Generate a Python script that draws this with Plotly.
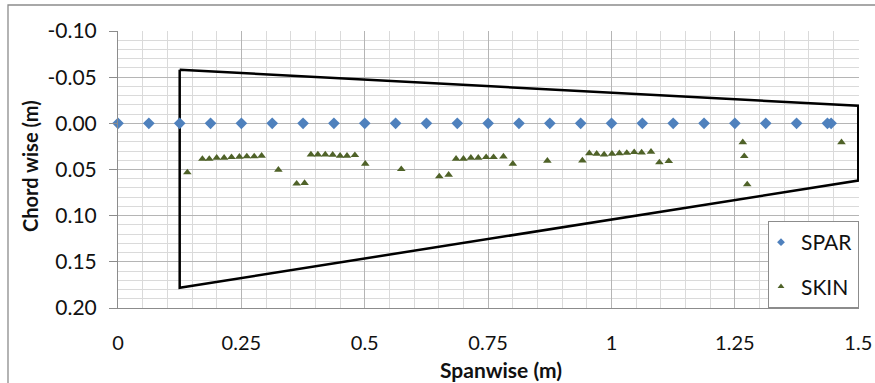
import plotly.graph_objects as go

# ---------------- data ----------------
spar_x = [0, 0.0625, 0.125, 0.1875, 0.25, 0.3125, 0.375, 0.4375, 0.5, 0.5625,
          0.625, 0.6875, 0.75, 0.8125, 0.875, 0.9375, 1.0, 1.0625, 1.125, 1.1875,
          1.25, 1.3125, 1.375, 1.4375, 1.445]
spar_y = [0.0] * len(spar_x)

skin_x = [0.1405,
          0.171, 0.185, 0.200, 0.215, 0.230, 0.246, 0.261, 0.276, 0.291,
          0.325, 0.362, 0.378,
          0.391, 0.405, 0.420, 0.435, 0.450, 0.464, 0.480,
          0.501, 0.574, 0.651, 0.670,
          0.685, 0.700, 0.715, 0.730, 0.746, 0.761, 0.781,
          0.800, 0.870, 0.941,
          0.955, 0.970, 0.985, 1.001, 1.016, 1.031, 1.046, 1.061, 1.080,
          1.097, 1.116,
          1.266, 1.269, 1.275, 1.466]
skin_y = [0.0532,
          0.0385, 0.0385, 0.0374, 0.0374, 0.0367, 0.0363, 0.0359, 0.0359, 0.0352,
          0.0503, 0.0654, 0.0647,
          0.0338, 0.0338, 0.0338, 0.0341, 0.0352, 0.0352, 0.0345,
          0.0438, 0.0496, 0.0575, 0.0557,
          0.0384, 0.0384, 0.0373, 0.0373, 0.0367, 0.0367, 0.0360,
          0.0438, 0.0406, 0.0403,
          0.0324, 0.0330, 0.0338, 0.0330, 0.0324, 0.0320, 0.0313, 0.0316, 0.0309,
          0.0424, 0.0410,
          0.0205, 0.0356, 0.0662, 0.0205]

# wing outline (planform)
outline_x = [0.125, 1.5, 1.5, 0.125, 0.125]
outline_y = [-0.058, -0.019, 0.062, 0.178, -0.058]

x_ticks = [0, 0.25, 0.5, 0.75, 1, 1.25, 1.5]
x_labels = ["0", "0.25", "0.5", "0.75", "1", "1.25", "1.5"]
y_ticks = [-0.10, -0.05, 0.00, 0.05, 0.10, 0.15, 0.20]
y_labels = ["-0.10", "-0.05", "0.00", "0.05", "0.10", "0.15", "0.20"]

# ---------------- layout constants ----------------
W, H = 875, 383
ML, MR, MT, MB = 118, 16, 31, 75
PW, PH = W - ML - MR, H - MT - MB
FONT = "Lato"
BLUE = "#4F81BD"
GREEN = "#4F6228"


def px_to_paper(px, py):
    return (px - ML) / PW, (H - MB - py) / PH


fig = go.Figure()

fig.add_trace(go.Scatter(x=outline_x, y=outline_y, mode="lines",
                         line=dict(color="black", width=2.5),
                         showlegend=False, hoverinfo="skip"))
fig.add_trace(go.Scatter(x=spar_x, y=spar_y, mode="markers", name="SPAR",
                         marker=dict(symbol="diamond", size=9, color=BLUE),
                         cliponaxis=False, showlegend=False))
fig.add_trace(go.Scatter(x=skin_x, y=skin_y, mode="markers", name="SKIN",
                         marker=dict(symbol="triangle-up", size=7.5, color=GREEN),
                         cliponaxis=False, showlegend=False))
# legend entries (small markers like the reference legend)
fig.add_trace(go.Scatter(x=[None], y=[None], mode="markers", name="SPAR",
                         legendgroup="a",
                         marker=dict(symbol="diamond", size=6, color=BLUE)))
fig.add_trace(go.Scatter(x=[None], y=[None], mode="markers", name="SKIN",
                         legendgroup="b",
                         marker=dict(symbol="triangle-up", size=6, color=GREEN)))

fig.update_xaxes(range=[0, 1.5015], tickvals=x_ticks, ticktext=x_labels,
                 showgrid=True, gridcolor="#b5b5b5", gridwidth=1,
                 minor=dict(dtick=0.05, tick0=0, showgrid=True,
                            gridcolor="#dadada", gridwidth=1),
                 showline=True, linecolor="#8c8c8c", linewidth=1,
                 ticks="", ticklabelstandoff=17, zeroline=False, automargin=False,
                 tickfont=dict(family=FONT, size=20, color="#111"))
fig.update_yaxes(range=[0.2, -0.1], tickvals=y_ticks, ticktext=y_labels,
                 showgrid=True, gridcolor="#b5b5b5", gridwidth=1,
                 minor=dict(dtick=0.01, tick0=0, showgrid=True,
                            gridcolor="#dadada", gridwidth=1),
                 showline=True, linecolor="#8c8c8c", linewidth=1,
                 ticks="outside", ticklen=8, tickcolor="#8c8c8c",
                 ticklabelstandoff=8, zeroline=False, automargin=False,
                 tickfont=dict(family=FONT, size=21, color="#111"))

ytx, yty = px_to_paper(30, 166)
xtx, xty = px_to_paper(501, 369)
fig.add_annotation(text="<b>Chord wise (m)</b>", x=ytx, y=yty, xref="paper", yref="paper",
                   textangle=-90, showarrow=False, xanchor="center", yanchor="middle",
                   font=dict(family=FONT, size=20, color="#111"))
fig.add_annotation(text="<b>Spanwise (m)</b>", x=xtx, y=xty, xref="paper", yref="paper",
                   showarrow=False, xanchor="center", yanchor="middle",
                   font=dict(family=FONT, size=21, color="#111"))

# chart-area frame (only left and top edges visible in the reference)
fx0, fy0 = px_to_paper(8, 5)
fx1, fy1 = px_to_paper(W + 5, H + 5)
fig.add_shape(type="path", xref="paper", yref="paper",
              path=f"M {fx0},{fy1} L {fx0},{fy0} L {fx1},{fy0}",
              line=dict(color="#8c8c8c", width=1.3))

fig.update_layout(
    width=W, height=H,
    margin=dict(l=ML, r=MR, t=MT, b=MB, autoexpand=False),
    paper_bgcolor="white", plot_bgcolor="white",
    font=dict(family=FONT, size=21, color="#111"),
    legend=dict(x=1, xanchor="right", y=0, yanchor="bottom",
                bgcolor="white", bordercolor="#8c8c8c", borderwidth=1,
                traceorder="grouped", tracegroupgap=14, indentation=-8,
                font=dict(family=FONT, size=21, color="#111")),
)

fig.write_html("out.html")
